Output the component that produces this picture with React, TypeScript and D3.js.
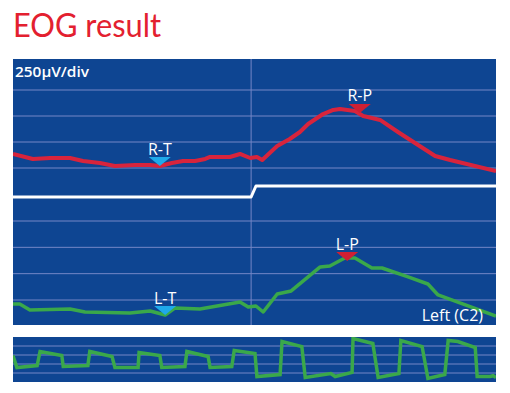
import React from "react";
import * as d3 from "d3";

// ---- data (time in % of sweep, amplitude in µV) ----
const redT = [0, 4.1, 7.7, 11.8, 14.5, 18.0, 21.1, 25.3, 28.4, 30.4, 32.9, 35.2, 37.7, 39.8, 40.8, 44.9, 47.0, 49.1, 50.5, 51.6, 54.7, 57.3, 59.4, 61.1, 64.2, 66.3, 67.7, 70.8, 72.5, 74.3, 76.0, 79.7, 87.4, 90.5, 100];
const redV = [135, 87, 96, 96, 67, 48, 19, 29, 29, 19, 48, 67, 67, 87, 106, 106, 135, 96, 106, 77, 212, 279, 346, 423, 519, 558, 567, 548, 500, 481, 462, 346, 115, 77, -29];

const greenT = [0, 1.4, 3.5, 11.8, 14.9, 24.2, 28.4, 31.5, 33.5, 38.7, 47.0, 48.7, 50.3, 51.8, 54.7, 57.6, 63.6, 65.6, 68.7, 70.8, 74.3, 76.4, 81.8, 85.9, 88.0, 100];
const greenV = [-38, -38, -95, -86, -114, -124, -105, -143, -76, -86, -19, -67, -57, -114, 57, 86, 314, 323, 399, 399, 304, 304, 219, 152, 48, -152];

const stepT = [0, 49.3, 50.3, 100];
const stepV = [-279, -279, -173, -173];

const sqT = [0, 0.8, 5.0, 5.6, 10.1, 10.4, 15.5, 15.9, 20.5, 21.1, 25.9, 26.1, 30.4, 30.8, 35.6, 36.0, 40.4, 40.8, 45.3, 45.8, 50.1, 50.5, 55.3, 55.7, 59.8, 60.5, 65.8, 66.7, 70.2, 70.4, 74.5, 75.6, 79.9, 80.3, 84.7, 85.9, 89.4, 90.1, 92.1, 95.7, 96.1, 98.8, 99.4, 100];
const sqV = [0.44, -0.89, -0.67, 0.89, 0.44, -0.78, -0.67, 0.89, 0.33, -0.89, -0.89, 0.78, 0.44, -0.89, -0.78, 0.89, 0.33, -0.89, -0.78, 1.0, 0.67, -1.89, -1.67, 2.0, 1.44, -2.0, -1.56, -1.89, -1.44, 2.33, 1.78, -2.0, -1.56, 2.11, 1.44, -2.11, -1.67, 2.11, 2.0, 1.33, -1.89, -1.89, -1.8, -2.0];

const gridUV = [0, 250, 500, 750];
const gridSq = [-1.5, -0.5, 0.5, 1.5];
const switchT = 49.3;

const rightMarkers = [
  { label: "R-T", t: 30.4, v: 19, kind: "trough" },
  { label: "R-P", t: 71.8, v: 530, kind: "peak" },
];
const leftMarkers = [
  { label: "L-T", t: 31.5, v: -143, kind: "trough" },
  { label: "L-P", t: 69.2, v: 370, kind: "peak" },
];

const BG = "#0e4592";
const GRID = "#7487c6";
const RED = "#d8243c";
const GREEN = "#3aa84a";
const CYAN = "#1fa9ea";
const FONT = "'Open Sans', 'DejaVu Sans', sans-serif";

export default function App() {
  const W = 510, H = 393;
  const x0 = 13, x1 = 496;
  const x = d3.scaleLinear().domain([0, 100]).range([x0, x1]);
  const yTop = d3.scaleLinear().domain([0, 750]).range([168, 90]);
  const yBot = d3.scaleLinear().domain([0, 750]).range([300, 221]);
  const ySq = d3.scaleLinear().domain([-2.5, 2.5]).range([382, 337]);

  const mk = (ys: d3.ScaleLinear<number, number>, ts: number[], vs: number[]) =>
    d3.line<number>().x((_, i) => x(ts[i])).y((v) => ys(v))(vs) || "";

  const redPath = mk(yTop, redT, redV);
  const greenPath = mk(yBot, greenT, greenV);
  const stepPath = mk(yTop, stepT, stepV);
  const sqPath = mk(ySq, sqT, sqV);

  const tri = (cx: number, tipY: number) => {
    const w = 11, h = 9;
    return `M${cx - w},${tipY - h}L${cx + w},${tipY - h}L${cx},${tipY}Z`;
  };

  const marker = (m: any, ys: d3.ScaleLinear<number, number>, key: string) => {
    const cx = x(m.t);
    const tip = ys(m.v);
    return (
      <g key={key}>
        <path d={tri(cx, tip)} fill={m.kind === "peak" ? "#cf1f33" : CYAN} />
        <text x={cx} y={tip - 11.5} textAnchor="middle" fill="#fff" fontFamily={FONT} fontSize={16}>
          {m.label}
        </text>
      </g>
    );
  };

  return (
    <svg width={W} height={H} style={{ position: "absolute", left: 0, top: 0 }} xmlns="http://www.w3.org/2000/svg">
      <defs>
        <clipPath id="cpMain"><rect x={x0} y={59} width={x1 - x0} height={266} /></clipPath>
        <clipPath id="cpSq"><rect x={x0} y={337} width={x1 - x0} height={45} /></clipPath>
      </defs>
      <rect width={W} height={H} fill="#fff" />
      <text x={13} y={37} fill="#e3202f" fontFamily="Lato, 'Open Sans', sans-serif" fontSize={33} textLength={148} lengthAdjust="spacingAndGlyphs">
        EOG result
      </text>

      {/* main panel */}
      <rect x={x0} y={59} width={x1 - x0} height={266} fill={BG} />
      {gridUV.map((g) => (
        <line key={"gt" + g} x1={x0} x2={x1} y1={yTop(g)} y2={yTop(g)} stroke={GRID} strokeWidth={1} />
      ))}
      {gridUV.map((g) => (
        <line key={"gb" + g} x1={x0} x2={x1} y1={yBot(g)} y2={yBot(g)} stroke={GRID} strokeWidth={1} />
      ))}
      <line x1={x(switchT)} x2={x(switchT)} y1={59} y2={325} stroke={GRID} strokeWidth={1} />
      <g clipPath="url(#cpMain)">
        <path d={stepPath} fill="none" stroke="#fff" strokeWidth={3} strokeLinejoin="round" />
        <path d={redPath} fill="none" stroke={RED} strokeWidth={4} strokeLinejoin="round" />
        <path d={greenPath} fill="none" stroke={GREEN} strokeWidth={3.5} strokeLinejoin="round" />
      </g>
      {rightMarkers.map((m, i) => marker(m, yTop, "r" + i))}
      {leftMarkers.map((m, i) => marker(m, yBot, "l" + i))}
      <text x={15} y={77} fill="#fff" fontFamily={FONT} fontSize={15} fontWeight={600} textLength={74} lengthAdjust="spacingAndGlyphs">250µV/div</text>
      <text x={483} y={321} textAnchor="end" fill="#fff" fontFamily={FONT} fontSize={16}>Left (C2)</text>

      {/* bottom panel */}
      <rect x={x0} y={337} width={x1 - x0} height={45} fill={BG} />
      {gridSq.map((g) => (
        <line key={"gs" + g} x1={x0} x2={x1} y1={ySq(g)} y2={ySq(g)} stroke={GRID} strokeWidth={1} />
      ))}
      <g clipPath="url(#cpSq)">
        <path d={sqPath} fill="none" stroke={GREEN} strokeWidth={3.5} strokeLinejoin="miter" />
      </g>
    </svg>
  );
}
